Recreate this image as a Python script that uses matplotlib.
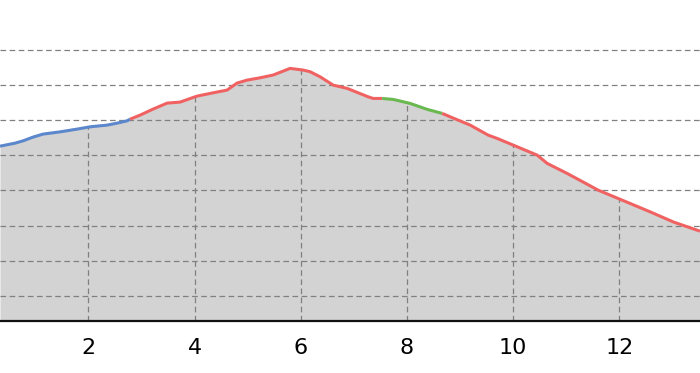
import matplotlib
matplotlib.use('Agg')
import matplotlib.pyplot as plt
import numpy as np

# distance (km) and elevation (m) of the profile, split by section colour
blue_x = [0.335, 0.618, 0.769, 0.957, 1.146, 1.466, 1.786, 2.031, 2.352, 2.540, 2.728, 2.785]
blue_y = [363.1, 367.4, 370.7, 376.0, 380.3, 383.5, 387.4, 390.7, 393.1, 395.9, 399.2, 401.6]

red1_x = [2.785, 2.973, 3.218, 3.482, 3.727, 4.047, 4.349, 4.613, 4.801, 4.989, 5.234, 5.479,
          5.800, 6.045, 6.177, 6.365, 6.610, 6.874, 7.062, 7.270, 7.364, 7.534]
red1_y = [401.6, 407.3, 415.9, 424.4, 425.9, 434.4, 439.1, 443.0, 453.0, 457.2, 460.5, 464.4,
          473.9, 471.5, 469.1, 461.9, 450.1, 445.4, 439.7, 433.4, 431.1, 431.1]

green_x = [7.534, 7.741, 8.061, 8.382, 8.664]
green_y = [431.1, 429.7, 424.0, 415.5, 409.8]

red2_x = [8.664, 8.815, 9.192, 9.531, 9.701, 10.002, 10.454, 10.643, 11.020, 11.604, 11.830,
          12.207, 12.584, 13.017, 13.469, 13.52]
red2_y = [409.8, 404.9, 393.1, 378.8, 374.1, 364.6, 350.3, 338.5, 324.2, 300.4, 293.3,
          281.4, 269.5, 255.2, 243.4, 242.0]

x_ticks = [2, 4, 6, 8, 10, 12]
y_grid = [150, 200, 250, 300, 350, 400, 450, 500]

sections = [(blue_x, blue_y, '#5b87cc'), (red1_x, red1_y, '#f06262'),
            (green_x, green_y, '#6ab850'), (red2_x, red2_y, '#f06262')]

all_x = np.concatenate([blue_x, red1_x[1:], green_x[1:], red2_x[1:]])
all_y = np.concatenate([blue_y, red1_y[1:], green_y[1:], red2_y[1:]])

fig = plt.figure(figsize=(7, 3.73), dpi=100)
ax = fig.add_axes([0, 0.1394, 1, 0.8606])
ymin, ymax = 114.1, 571.3
ax.set_xlim(all_x[0], all_x[-1])
ax.set_ylim(ymin, ymax)

ax.fill_between(all_x, ymin, all_y, color='#d3d3d3', zorder=1, lw=0)

for g in y_grid:
    ax.axhline(g, color='#808080', lw=0.9, dashes=(4.5, 2.8), zorder=2)
ax.vlines(x_ticks, ymin, np.interp(x_ticks, all_x, all_y), color='#808080', lw=0.9,
          linestyles=(0, (4.5, 2.8)), zorder=2)

for sx, sy, c in sections:
    ax.plot(sx, sy, color=c, lw=2.2, solid_capstyle='butt', zorder=3)

for s in ['top', 'left', 'right']:
    ax.spines[s].set_visible(False)
ax.spines['bottom'].set_linewidth(1.6)
ax.spines['bottom'].set_color('#111111')
ax.set_xticks(x_ticks)
ax.set_xticklabels([str(t) for t in x_ticks])
ax.set_yticks([])
ax.tick_params(axis='x', length=0, pad=12, labelsize=16)

fig.savefig('out.png', dpi=100)
